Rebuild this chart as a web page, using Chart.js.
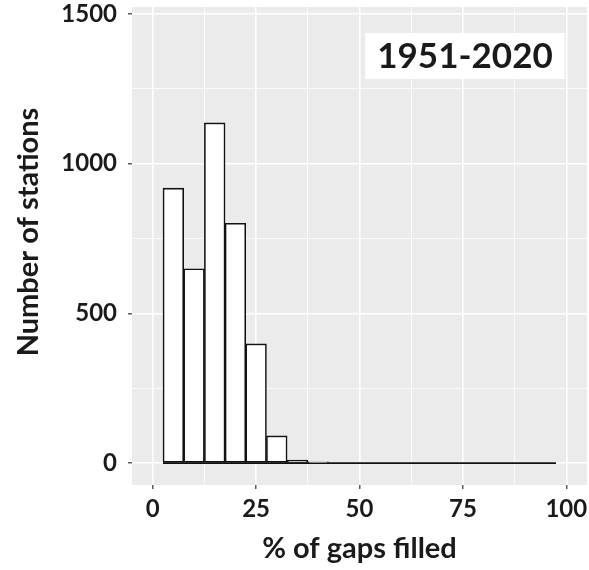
<!DOCTYPE html>
<html>
<head>
<meta charset="utf-8">
<script src="https://cdn.jsdelivr.net/npm/chart.js@4.4.0/dist/chart.umd.min.js"></script>
<style>
    html, body { margin: 0; padding: 0; background: #ffffff; }
    #chart { display: block; }
</style>
</head>
<body>
<canvas id="chart" width="589" height="570"></canvas>
<script>
// histogram of % of gaps filled, bins of width 5
const binWidth = 5;
const binCenters = [5, 10, 15, 20, 25, 30, 35, 40, 45, 50, 55, 60, 65, 70, 75, 80, 85, 90, 95];
const stationCounts = [918, 649, 1136, 801, 398, 91, 10, 4, 0, 0, 0, 0, 0, 0, 0, 0, 0, 0, 0];
const xTicks = [0, 12.5, 25, 37.5, 50, 62.5, 75, 87.5, 100];
const yTicks = [0, 250, 500, 750, 1000, 1250, 1500];
const periodLabel = '1951-2020';
const yTitle = 'Number of stations';

const FONT = 'Lato, "Open Sans", sans-serif';
const TEXT = '#1a1a1a';

const barData = binCenters.map((x, i) => ({ x: x, y: stationCounts[i] }));
const baseLine = [
    { x: binCenters[0] - binWidth / 2, y: 0 },
    { x: binCenters[binCenters.length - 1] + binWidth / 2, y: 0 }
];

const tickVal = c => (c.tick ? c.tick.value : NaN);
const isMajorX = v => v % 25 === 0;
const isMajorY = v => v % 500 === 0;

// grey ggplot panel, period box and y title
const panelPlugin = {
    id: 'panel',
    beforeDraw(chart) {
        const { ctx, chartArea: a } = chart;
        ctx.save();
        ctx.fillStyle = '#ebebeb';
        ctx.fillRect(a.left, a.top, a.right - a.left, a.bottom - a.top);
        ctx.restore();
    },
    afterDraw(chart) {
        const { ctx, chartArea: a } = chart;
        ctx.save();
        ctx.font = 'bold 35px ' + FONT;
        const w = ctx.measureText(periodLabel).width;
        const cx = a.right - 122, cy = 56;
        ctx.fillStyle = '#ffffff';
        ctx.fillRect(cx - w / 2 - 12, cy - 23, w + 24, 46);
        ctx.fillStyle = TEXT;
        ctx.textAlign = 'center';
        ctx.textBaseline = 'middle';
        ctx.fillText(periodLabel, cx, cy + 1);

        ctx.translate(29, 232);
        ctx.rotate(-Math.PI / 2);
        ctx.font = 'bold 29px ' + FONT;
        ctx.fillText(yTitle, 0, 0);
        ctx.restore();
    }
};

new Chart(document.getElementById('chart'), {
    type: 'bar',
    data: {
        datasets: [{
            type: 'line',
            data: baseLine,
            borderColor: '#111111',
            borderWidth: 1.6,
            pointRadius: 0,
            order: 2
        }, {
            data: barData,
            backgroundColor: '#ffffff',
            borderColor: '#111111',
            borderWidth: 1.6,
            borderSkipped: false,
            barPercentage: 1,
            categoryPercentage: 1,
            order: 1
        }]
    },
    options: {
        responsive: false,
        animation: false,
        layout: { padding: { top: 7, right: 2, left: 0, bottom: 0 } },
        plugins: {
            legend: { display: false },
            tooltip: { enabled: false }
        },
        scales: {
            x: {
                type: 'linear',
                offset: false,
                min: -5,
                max: 105,
                afterBuildTicks: s => { s.ticks = xTicks.map(v => ({ value: v })); },
                afterFit: s => { s.height = 85; s.paddingLeft = 0; s.paddingRight = 0; },
                border: { display: false },
                grid: {
                    offset: false,
                    color: '#ffffff',
                    lineWidth: c => isMajorX(tickVal(c)) ? 1.6 : 0.8,
                    tickColor: c => isMajorX(tickVal(c)) ? '#333333' : 'rgba(0,0,0,0)',
                    tickLength: 4,
                    tickWidth: 1.2
                },
                ticks: {
                    autoSkip: false,
                    maxRotation: 0,
                    padding: 6,
                    color: TEXT,
                    font: { family: FONT, size: 24, weight: 'bold' },
                    callback: v => isMajorX(v) ? v : ''
                },
                title: {
                    display: true,
                    text: '% of gaps filled',
                    color: TEXT,
                    font: { family: FONT, size: 29, weight: 'bold' },
                    padding: { top: 0, bottom: 4 }
                }
            },
            y: {
                min: -73,
                max: 1523,
                afterBuildTicks: s => { s.ticks = yTicks.map(v => ({ value: v })); },
                afterFit: s => { s.width = 132; s.paddingTop = 0; s.paddingBottom = 0; },
                border: { display: false },
                grid: {
                    color: '#ffffff',
                    lineWidth: c => isMajorY(tickVal(c)) ? 1.6 : 0.8,
                    tickColor: c => isMajorY(tickVal(c)) ? '#333333' : 'rgba(0,0,0,0)',
                    tickLength: 4,
                    tickWidth: 1.2
                },
                ticks: {
                    autoSkip: false,
                    padding: 11,
                    color: TEXT,
                    font: { family: FONT, size: 24, weight: 'bold' },
                    callback: v => isMajorY(v) ? v : ''
                }
            }
        }
    },
    plugins: [panelPlugin]
});
</script>
</body>
</html>
